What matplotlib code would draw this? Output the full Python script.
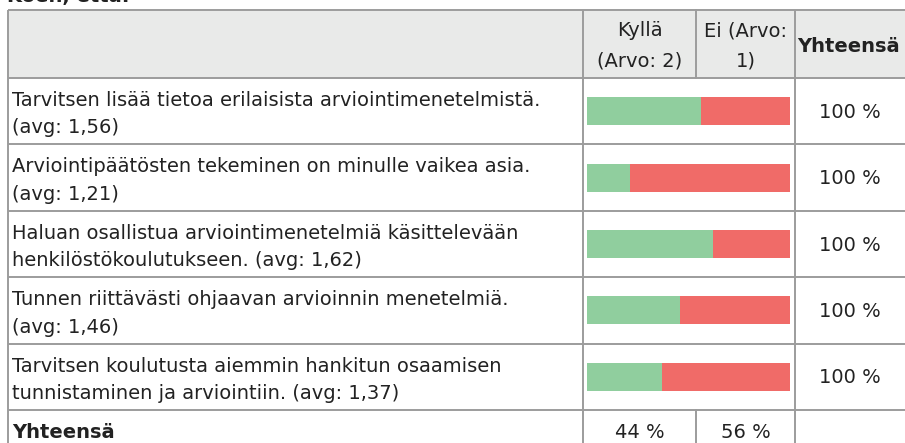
import matplotlib
matplotlib.use("Agg")
import matplotlib.pyplot as plt
from matplotlib.patches import Rectangle

plt.rcParams['font.family'] = ['DejaVu Sans']

# ---- data ----
title = "Koen, että:"
questions = [
    "Tarvitsen lisää tietoa erilaisista arviointimenetelmistä.\n(avg: 1,56)",
    "Arviointipäätösten tekeminen on minulle vaikea asia.\n(avg: 1,21)",
    "Haluan osallistua arviointimenetelmiä käsittelevään\nhenkilöstökoulutukseen. (avg: 1,62)",
    "Tunnen riittävästi ohjaavan arvioinnin menetelmiä.\n(avg: 1,46)",
    "Tarvitsen koulutusta aiemmin hankitun osaamisen\ntunnistaminen ja arviointiin. (avg: 1,37)",
]
yes_pct = [56, 21, 62, 46, 37]
no_pct = [44, 79, 38, 54, 63]
row_totals = ["100 %", "100 %", "100 %", "100 %", "100 %"]
col_headers = ["Kyllä\n(Arvo: 2)", "Ei (Arvo:\n1)", "Yhteensä"]
footer_label = "Yhteensä"
footer_values = ["44 %", "56 %"]

GREEN = "#90ce9e"
RED = "#f06b68"
GRID = "#9c9c9c"
HEADER_BG = "#e9eae9"
TEXT = "#222222"

W, H = 905, 443
fig = plt.figure(figsize=(W / 100, H / 100), dpi=100)
ax = fig.add_axes([0, 0, 1, 1])
ax.set_xlim(0, W)
ax.set_ylim(H, 0)
ax.axis("off")

# layout (pixels)
x_left, x_c1, x_c2, x_c3, x_right = 8, 583, 696, 795, 910
y_top, y_head = 10, 78
row_h = 66.4
row_tops = [y_head + i * row_h for i in range(len(questions) + 1)]
y_foot = row_tops[-1]

# header background
ax.add_patch(Rectangle((x_left, y_top), x_right - x_left, y_head - y_top,
                       facecolor=HEADER_BG, edgecolor="none", zorder=0))

# title (partially cut at top)
ax.text(x_left - 1, 2, title, fontsize=14, fontweight="bold", color=TEXT,
        va="baseline", ha="left")

fs = 14
ls = 1.55
# header texts
ax.text((x_c1 + x_c2) / 2, (y_top + y_head) / 2 + 2, col_headers[0], fontsize=fs,
        ha="center", va="center", color=TEXT, linespacing=1.75)
ax.text((x_c2 + x_c3) / 2, (y_top + y_head) / 2 + 2, col_headers[1], fontsize=fs,
        ha="center", va="center", color=TEXT, linespacing=1.75)
ax.text(x_c3 + 2, (y_top + y_head) / 2 + 2, col_headers[2], fontsize=fs,
        fontweight="bold", ha="left", va="center", color=TEXT)

# row texts
for i, q in enumerate(questions):
    top = row_tops[i]
    ax.text(x_left + 4, top + row_h / 2 + 3, q, fontsize=fs, ha="left",
            va="center", color=TEXT, linespacing=ls)
    ax.text(850, top + row_h / 2 + 1, row_totals[i], fontsize=fs,
            ha="center", va="center", color=TEXT)

# footer
ax.text(x_left + 4, y_foot + 22, footer_label, fontsize=fs, fontweight="bold",
        ha="left", va="center", color=TEXT)
ax.text((x_c1 + x_c2) / 2, y_foot + 22, footer_values[0], fontsize=fs,
        ha="center", va="center", color=TEXT)
ax.text((x_c2 + x_c3) / 2, y_foot + 22, footer_values[1], fontsize=fs,
        ha="center", va="center", color=TEXT)

# grid lines
lw = 1.4
for yy in [y_top, y_head] + row_tops[1:]:
    ax.plot([x_left, x_right], [yy, yy], color=GRID, lw=lw, solid_capstyle="butt")
for xx in [x_left, x_c1, x_c3]:
    ax.plot([xx, xx], [y_top, H + 5], color=GRID, lw=lw, solid_capstyle="butt")
ax.plot([x_c2, x_c2], [y_top, y_head], color=GRID, lw=lw)
ax.plot([x_c2, x_c2], [y_foot, H + 5], color=GRID, lw=lw)

# bar axes covering the bar column region
bx0, bx1 = 587, 790
bax = fig.add_axes([bx0 / W, 1 - y_foot / H, (bx1 - bx0) / W, (y_foot - y_head) / H])
n = len(questions)
ypos = list(range(n))
bar_h = 28 / row_h
bax.barh(ypos, yes_pct, height=bar_h, color=GREEN, edgecolor="none")
bax.barh(ypos, no_pct, left=yes_pct, height=bar_h, color=RED, edgecolor="none")
bax.set_xlim(0, 100)
bax.set_ylim(n - 0.5, -0.5)
bax.axis("off")

fig.savefig("out.png", dpi=100)
